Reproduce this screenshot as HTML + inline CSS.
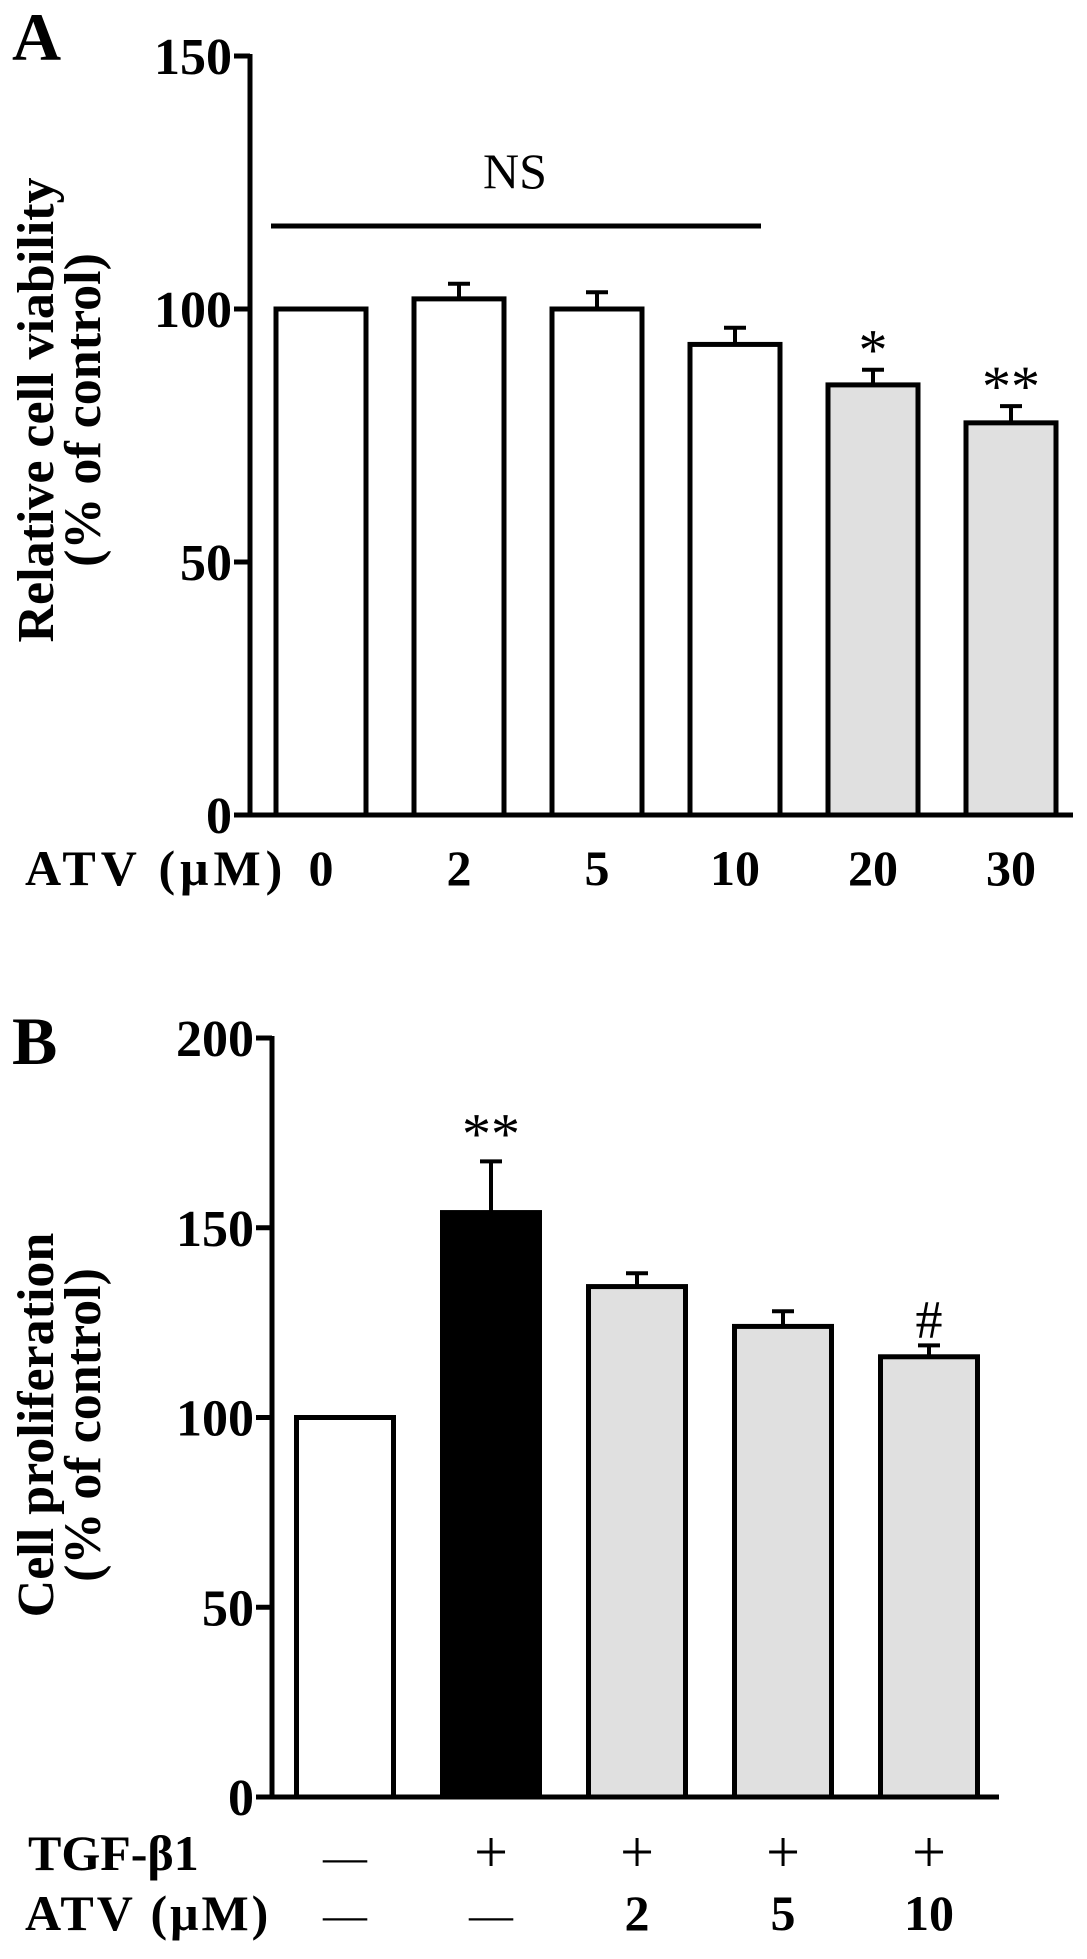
<!DOCTYPE html>
<html><head><meta charset="utf-8"><style>
html,body{margin:0;padding:0;background:#fff;}
svg{display:block;}
text{font-family:"Liberation Serif",serif;fill:#000;}
</style></head><body>
<svg id="fig" width="1087" height="1959" viewBox="0 0 1087 1959" xmlns="http://www.w3.org/2000/svg">
<g id="pa"></g>
<g id="pb"></g>
</svg>
<script>
// Panel A data
const aCategories = ["0","2","5","10","20","30"];
const aValues = [100,102,100,93,85,77.5];
const aErrors = [0,3,3.3,3.3,3,3.3];
const aFills = ["#fff","#fff","#fff","#fff","#e0e0e0","#e0e0e0"];
const aSig = ["","","","","*","**"];
const aTicks = [0,50,100,150];
// Panel B data
const bTgf = ["—","+","+","+","+"];
const bAtv = ["—","—","2","5","10"];
const bValues = [100,154,134.5,124,116];
const bErrors = [0,13.5,3.5,4,3];
const bFills = ["#fff","#000","#e0e0e0","#e0e0e0","#e0e0e0"];
const bSig = ["","**","","","#"];
const bTicks = [0,50,100,150,200];

const NS="http://www.w3.org/2000/svg";
function mk(parent,tag,attrs,txt){const e=document.createElementNS(NS,tag);for(const k in attrs)e.setAttribute(k,attrs[k]);if(txt!==undefined)e.textContent=txt;parent.appendChild(e);return e;}

function drawPanel(g,cfg){
  const y=v=>cfg.y0-(v/cfg.ymax)*(cfg.y0-cfg.yTop);
  const x=i=>cfg.c0+i*cfg.step;
  cfg.values.forEach((v,i)=>{
    const bx=x(i)-cfg.bw/2;
    if(cfg.errors[i]>0){
      const l=mk(g,'line',{x1:x(i),x2:x(i),y1:y(v),y2:y(v+cfg.errors[i]),stroke:'#000','stroke-width':4});
      
      
      const c=mk(g,'line',{x1:x(i)-11,x2:x(i)+11,y1:y(v+cfg.errors[i]),y2:y(v+cfg.errors[i]),stroke:'#000','stroke-width':4});
      
      
    }
    const r=mk(g,'rect',{x:bx,y:y(v),width:cfg.bw,height:cfg.y0-y(v),fill:cfg.fills[i],stroke:'#000','stroke-width':5});
    
    
    if(cfg.sig[i]){
      const t=mk(g,'text',{x:x(i),y:y(v+cfg.errors[i])-cfg.sigOff,'text-anchor':'middle','font-size':cfg.sig[i]==='#'?54:58},cfg.sig[i]);
      
      
    }
  });
  const ya=mk(g,'line',{x1:cfg.ax,x2:cfg.ax,y1:cfg.yTop-2,y2:cfg.y0+2,stroke:'#000','stroke-width':5});
  
  
  const xa=mk(g,'line',{x1:cfg.ax-16,x2:cfg.xEnd,y1:cfg.y0,y2:cfg.y0,stroke:'#000','stroke-width':5});
  
  
  cfg.ticks.forEach(t=>{
    const tk=mk(g,'line',{x1:cfg.ax-16,x2:cfg.ax,y1:y(t),y2:y(t),stroke:'#000','stroke-width':5});
    
    
    const tl=mk(g,'text',{x:cfg.ax-18,y:y(t)+18,'text-anchor':'end','font-size':52,'font-weight':'bold'},String(t));
    
    
  });
  return {x,y};
}

// Panel A
const ga=document.getElementById('pa');
const A=drawPanel(ga,{values:aValues,errors:aErrors,fills:aFills,sig:aSig,ticks:aTicks,ymax:150,y0:815,yTop:56,c0:321,step:138,bw:90,ax:250,xEnd:1073,sigOff:0});
aCategories.forEach((c,i)=>{
  const t=mk(ga,'text',{x:A.x(i),y:885,'text-anchor':'middle','font-size':50,'font-weight':'bold'},c);
  
  
});
let t;
t=mk(ga,'text',{x:25,y:885,'font-size':50,'font-weight':'bold','letter-spacing':'5'},'ATV (μM)');


t=mk(ga,'text',{x:12,y:60,'font-size':68,'font-weight':'bold'},'A');


let ns=mk(ga,'line',{x1:271,x2:761,y1:226,y2:226,stroke:'#000','stroke-width':5});


t=mk(ga,'text',{x:515,y:188,'text-anchor':'middle','font-size':50},'NS');


t=mk(ga,'text',{transform:'translate(53,410) rotate(-90)','text-anchor':'middle','font-size':52,'font-weight':'bold'},'Relative cell viability');


t=mk(ga,'text',{transform:'translate(100,410) rotate(-90)','text-anchor':'middle','font-size':52,'font-weight':'bold'},'(% of control)');



// Panel B
const gb=document.getElementById('pb');
const B=drawPanel(gb,{values:bValues,errors:bErrors,fills:bFills,sig:bSig,ticks:bTicks,ymax:200,y0:1797,yTop:1038,c0:345,step:146,bw:97,ax:272,xEnd:999,sigOff:8});
bTgf.forEach((c,i)=>{
  const e=mk(gb,'text',{x:B.x(i),y:1872,'text-anchor':'middle','font-size':c==='+'?60:44},c);
  
  
});
bAtv.forEach((c,i)=>{
  const bold=!(c==="—");
  const e=mk(gb,'text',{x:B.x(i),y:1930,'text-anchor':'middle','font-size':bold?50:44,'font-weight':bold?'bold':'normal'},c);
  
  
});
t=mk(gb,'text',{x:28,y:1870,'font-size':50,'font-weight':'bold'},'TGF-β1');


t=mk(gb,'text',{x:25,y:1930,'font-size':50,'font-weight':'bold','letter-spacing':'3'},'ATV (μM)');


t=mk(gb,'text',{x:12,y:1064,'font-size':68,'font-weight':'bold'},'B');


t=mk(gb,'text',{transform:'translate(53,1425) rotate(-90)','text-anchor':'middle','font-size':52,'font-weight':'bold'},'Cell proliferation');


t=mk(gb,'text',{transform:'translate(100,1425) rotate(-90)','text-anchor':'middle','font-size':52,'font-weight':'bold'},'(% of control)');


</script>
</body></html>
